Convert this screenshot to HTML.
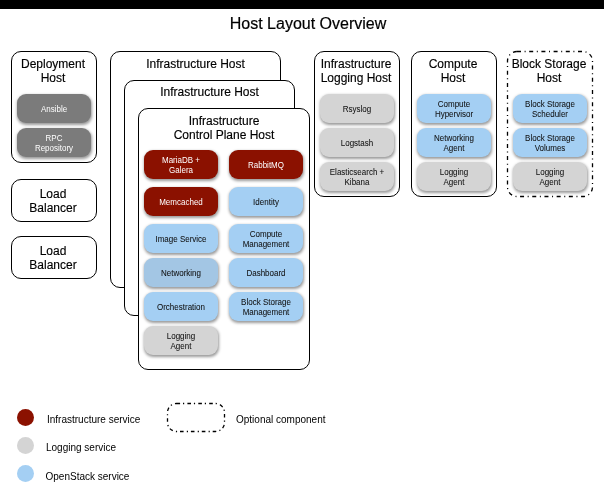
<!DOCTYPE html>
<html><head><meta charset="utf-8">
<style>
html,body{margin:0;padding:0;background:#fff;}
body{width:604px;height:496px;position:relative;overflow:hidden;font-family:"Liberation Sans",sans-serif;color:#000;}
.bar{position:absolute;left:0;top:0;width:604px;height:9px;background:#000;}
.title{position:absolute;left:6px;width:604px;top:14px;text-align:center;font-size:16px;line-height:20px;-webkit-text-stroke:0.2px #000;}
.host{position:absolute;box-sizing:border-box;border:1px solid #000;border-radius:10px;}
.ht{position:absolute;left:0;right:0;text-align:center;font-size:12px;line-height:14px;-webkit-text-stroke:0.15px #000;}
.svc{position:absolute;box-sizing:border-box;width:74px;height:29px;border-radius:9px;display:flex;align-items:center;justify-content:center;text-align:center;font-size:8px;line-height:10px;padding-top:2px;-webkit-text-stroke:0.05px currentColor;box-shadow:0.5px 1.5px 3px rgba(0,0,0,0.4);}
.svc span{display:inline-block;line-height:8.5px;transform:scaleY(1.18);transform-origin:50% 50%;}
.svc span.s1{position:relative;top:1px;}
.r{background:#8b1100;color:#fff;-webkit-text-stroke:0;}
.b{background:#a4cff3;color:#111;}
.g{background:#d4d4d4;color:#111;}
.d{background:#7b7b7b;color:#fff;-webkit-text-stroke:0;}
.n{background:#a3c6e4;color:#111;}
.leg{position:absolute;font-size:10px;line-height:12px;}
.dot{position:absolute;width:17px;height:17px;border-radius:50%;}
svg{position:absolute;left:0;top:0;}
</style></head><body>
<div id="wrap" style="position:absolute;left:0;top:0;width:604px;height:496px;will-change:transform;">
<div class="bar"></div>
<div class="title">Host Layout Overview</div>

<!-- Deployment host -->
<div class="host" style="left:11px;top:51px;width:86px;height:112px;">
  <div class="ht" style="top:5px;left:-1px;right:1px;">Deployment<br>Host</div>
</div>
<div class="svc d" style="left:17px;top:94px;"><span class="s1">Ansible</span></div>
<div class="svc d" style="left:17px;top:128px;"><span>RPC<br>Repository</span></div>

<!-- Load balancers -->
<div class="host" style="left:11px;top:179px;width:86px;height:43px;">
  <div class="ht" style="top:7px;left:-1px;right:1px;">Load<br>Balancer</div>
</div>
<div class="host" style="left:11px;top:236px;width:86px;height:43px;">
  <div class="ht" style="top:7px;left:-1px;right:1px;">Load<br>Balancer</div>
</div>

<!-- Infra hosts -->
<div class="host" style="left:110px;top:51px;width:171px;height:237px;">
  <div class="ht" style="top:5px;">Infrastructure Host</div>
</div>
<div class="host" style="left:124px;top:80px;width:171px;height:236px;background:#fff;">
  <div class="ht" style="top:4px;">Infrastructure Host</div>
</div>
<div class="host" style="left:138px;top:108px;width:172px;height:262px;background:#fff;">
  <div class="ht" style="top:5px;">Infrastructure<br>Control Plane Host</div>
</div>
<div class="svc r" style="left:144px;top:150px;"><span>MariaDB +<br>Galera</span></div>
<div class="svc r" style="left:229px;top:150px;"><span class="s1">RabbitMQ</span></div>
<div class="svc r" style="left:144px;top:187px;"><span class="s1">Memcached</span></div>
<div class="svc b" style="left:229px;top:187px;"><span class="s1">Identity</span></div>
<div class="svc b" style="left:144px;top:224px;"><span class="s1">Image Service</span></div>
<div class="svc b" style="left:229px;top:224px;"><span>Compute<br>Management</span></div>
<div class="svc n" style="left:144px;top:258px;"><span class="s1">Networking</span></div>
<div class="svc b" style="left:229px;top:258px;"><span class="s1">Dashboard</span></div>
<div class="svc b" style="left:144px;top:292px;"><span class="s1">Orchestration</span></div>
<div class="svc b" style="left:229px;top:292px;"><span>Block Storage<br>Management</span></div>
<div class="svc g" style="left:144px;top:326px;"><span>Logging<br>Agent</span></div>

<!-- Infra logging host -->
<div class="host" style="left:314px;top:51px;width:86px;height:146px;">
  <div class="ht" style="top:5px;left:-1px;right:1px;">Infrastructure<br>Logging Host</div>
</div>
<div class="svc g" style="left:320px;top:94px;"><span class="s1">Rsyslog</span></div>
<div class="svc g" style="left:320px;top:128px;"><span class="s1">Logstash</span></div>
<div class="svc g" style="left:320px;top:162px;"><span>Elasticsearch +<br>Kibana</span></div>

<!-- Compute host -->
<div class="host" style="left:411px;top:51px;width:86px;height:146px;">
  <div class="ht" style="top:5px;left:-1px;right:1px;">Compute<br>Host</div>
</div>
<div class="svc b" style="left:417px;top:94px;"><span>Compute<br>Hypervisor</span></div>
<div class="svc b" style="left:417px;top:128px;"><span>Networking<br>Agent</span></div>
<div class="svc g" style="left:417px;top:162px;"><span>Logging<br>Agent</span></div>

<!-- Block storage host (dash-dot) -->
<svg width="604" height="496" style="pointer-events:none">
  <rect x="507.5" y="51.5" width="85" height="145" rx="9.5" ry="9.5" fill="none" stroke="#000" stroke-width="1.3" stroke-dasharray="4 3.6 1 3.6"/>
  <rect x="167.5" y="403.5" width="57" height="28" rx="9" ry="9" fill="none" stroke="#000" stroke-width="1.3" stroke-dasharray="3.6 2.9 1.2 3.2"/>
</svg>
<div class="ht" style="position:absolute;left:506px;width:86px;top:57px;">Block Storage<br>Host</div>
<div class="svc b" style="left:513px;top:94px;"><span>Block Storage<br>Scheduler</span></div>
<div class="svc b" style="left:513px;top:128px;"><span>Block Storage<br>Volumes</span></div>
<div class="svc g" style="left:513px;top:162px;"><span>Logging<br>Agent</span></div>

<!-- Legend -->
<div class="dot" style="left:17px;top:409px;background:#8b1100;"></div>
<div class="leg" style="left:47px;top:414px;">Infrastructure service</div>
<div class="dot" style="left:17px;top:437px;background:#d4d4d4;"></div>
<div class="leg" style="left:46px;top:442px;">Logging service</div>
<div class="dot" style="left:17px;top:465px;background:#a4cff3;"></div>
<div class="leg" style="left:45.5px;top:471px;">OpenStack service</div>
<div class="leg" style="left:236px;top:414px;">Optional component</div>
</div>
</body></html>
